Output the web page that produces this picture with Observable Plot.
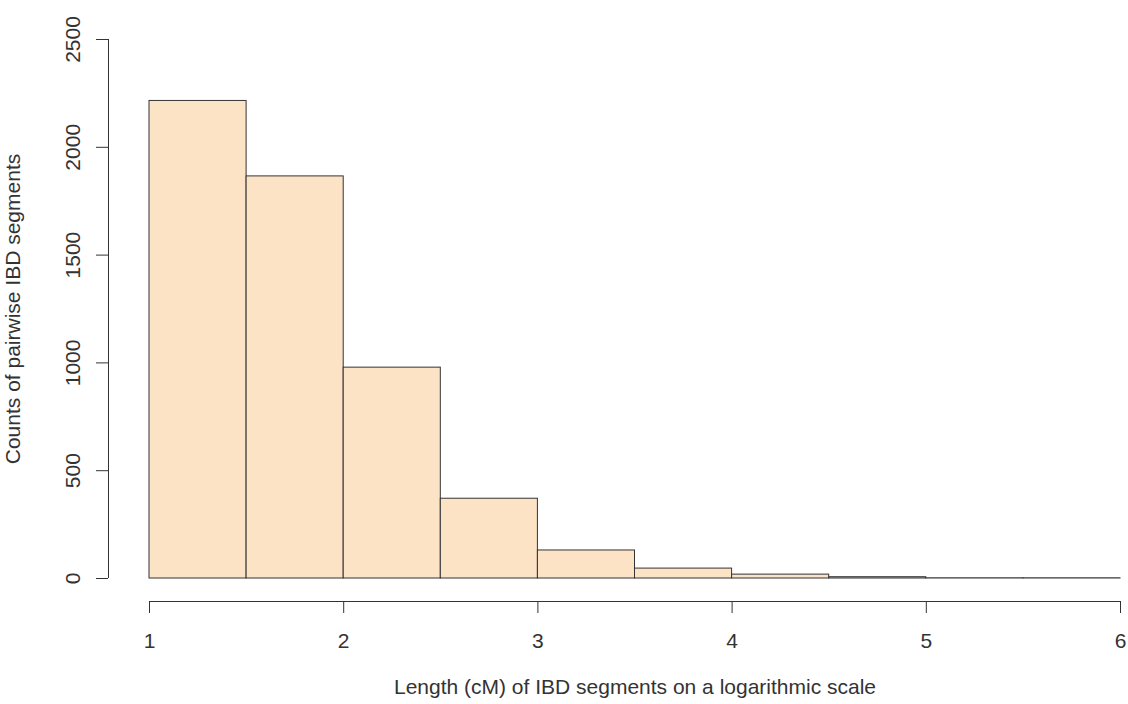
<!DOCTYPE html>
<html>
<head>
<meta charset="utf-8">
<script src="https://cdn.jsdelivr.net/npm/d3@7"></script>
<script src="https://cdn.jsdelivr.net/npm/@observablehq/plot@0.6"></script>
<style>
  html, body { margin: 0; padding: 0; background: #fff; }
  #chart svg { display: block; }
</style>
</head>
<body>
<div id="chart"></div>
<script>
const binStarts = [1, 1.5, 2, 2.5, 3, 3.5, 4, 4.5, 5, 5.5];
const binEnds   = [1.5, 2, 2.5, 3, 3.5, 4, 4.5, 5, 5.5, 6];
const counts    = [2215, 1865, 978, 370, 130, 46, 18, 6, 1, 1];
const xTicks = [1, 2, 3, 4, 5, 6];
const yTicks = [0, 500, 1000, 1500, 2000, 2500];
const xTitle = "Length (cM) of IBD segments on a logarithmic scale";
const yTitle = "Counts of pairwise IBD segments";

const bins = binStarts.map((s, i) => ({x1: s, x2: binEnds[i], count: counts[i]}));
const ink = "#333";
const fs = 21;

const chart = Plot.plot({
  width: 1128,
  height: 704,
  marginLeft: 149,
  marginRight: 8,
  marginTop: 39,
  marginBottom: 126,
  style: {fontFamily: "'Liberation Sans', Arial, sans-serif", fontSize: fs + "px", color: ink, background: "#fff"},
  x: {domain: [1, 6]},
  y: {domain: [0, 2500]},
  marks: [
    Plot.rectY(bins, {x1: "x1", x2: "x2", y: "count", fill: "#FDE3C6", stroke: ink, strokeWidth: 1}),
    // x axis
    Plot.ruleY([0], {x1: 1, x2: 6, dy: 23, stroke: ink}),
    Plot.axisX({ticks: xTicks, tickFormat: d => String(d), tickSize: 12, tickPadding: 20, dy: 23, label: null, stroke: ink, fill: ink, fontSize: fs}),
    // y axis
    Plot.ruleX([1], {y1: 0, y2: 2500, dx: -41, stroke: ink}),
    Plot.axisY({ticks: yTicks, tickSize: 12, dx: -41, label: null, text: null, stroke: ink}),
    Plot.text(yTicks, {x: 1, y: d => d, text: d => String(d), dx: -76, rotate: -90, fill: ink, fontSize: fs, textAnchor: "middle"}),
    // titles
    Plot.text([xTitle], {frameAnchor: "bottom", dy: 115, fill: ink, fontSize: fs, textAnchor: "middle"}),
    Plot.text([yTitle], {frameAnchor: "left", dx: -136, rotate: -90, fill: ink, fontSize: fs, textAnchor: "middle"})
  ]
});
document.getElementById("chart").appendChild(chart);
</script>
</body>
</html>
